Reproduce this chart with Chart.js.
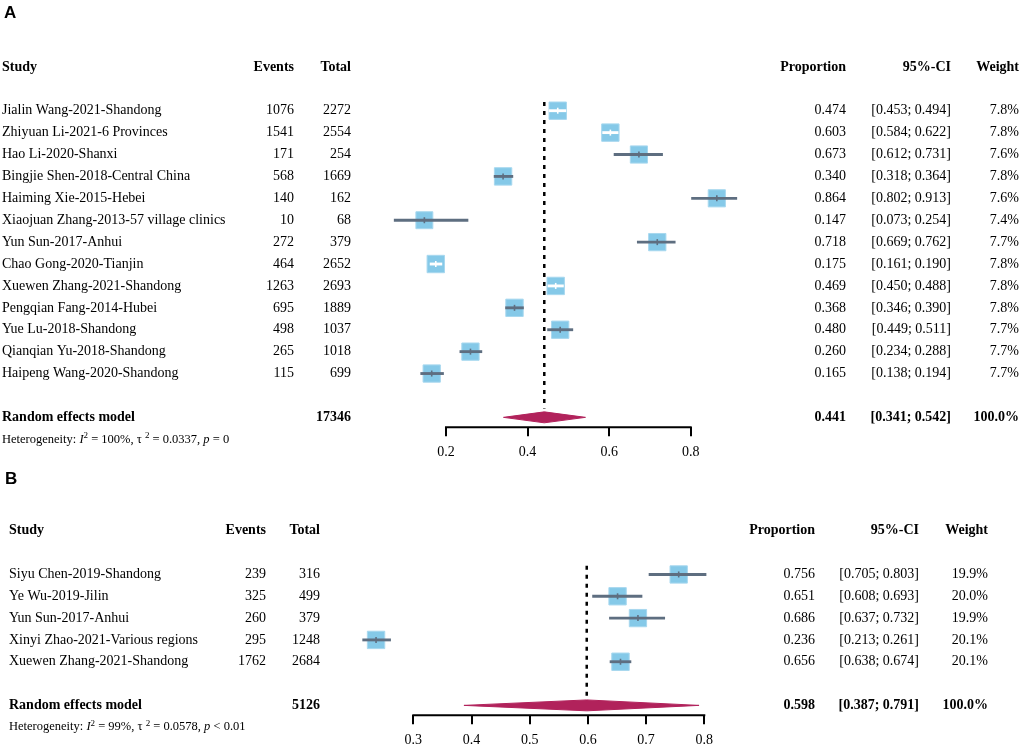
<!DOCTYPE html>
<html>
<head>
<meta charset="utf-8">
<script src="https://cdn.jsdelivr.net/npm/chart.js@4.4.1/dist/chart.umd.min.js"></script>
<style>
  html, body { margin:0; padding:0; background:#fff; overflow:hidden; }
  canvas { position:absolute; left:0; }
  #chartA { top:0; }
  #chartB { top:470px; }
</style>
</head>
<body>
<canvas id="chartA" width="1021" height="470"></canvas>
<canvas id="chartB" width="1021" height="290"></canvas>
<script>
const FONT = '"Liberation Serif", "Times New Roman", serif';
const SKY = '#85C9E8';
const SKY_EDGE = '#A8D8EF';
const GREY = '#5E6E80';
const DIAMOND = '#B1225B';

// panel A
const studiesA = ["Jialin Wang-2021-Shandong", "Zhiyuan Li-2021-6 Provinces", "Hao Li-2020-Shanxi",
  "Bingjie Shen-2018-Central China", "Haiming Xie-2015-Hebei", "Xiaojuan Zhang-2013-57 village clinics",
  "Yun Sun-2017-Anhui", "Chao Gong-2020-Tianjin", "Xuewen Zhang-2021-Shandong", "Pengqian Fang-2014-Hubei",
  "Yue Lu-2018-Shandong", "Qianqian Yu-2018-Shandong", "Haipeng Wang-2020-Shandong"];
const eventsA = [1076, 1541, 171, 568, 140, 10, 272, 464, 1263, 695, 498, 265, 115];
const totalA = [2272, 2554, 254, 1669, 162, 68, 379, 2652, 2693, 1889, 1037, 1018, 699];
const propA = [0.474, 0.603, 0.673, 0.340, 0.864, 0.147, 0.718, 0.175, 0.469, 0.368, 0.480, 0.260, 0.165];
const lowerA = [0.453, 0.584, 0.612, 0.318, 0.802, 0.073, 0.669, 0.161, 0.450, 0.346, 0.449, 0.234, 0.138];
const upperA = [0.494, 0.622, 0.731, 0.364, 0.913, 0.254, 0.762, 0.190, 0.488, 0.390, 0.511, 0.288, 0.194];
const weightA = [7.8, 7.8, 7.6, 7.8, 7.6, 7.4, 7.7, 7.8, 7.8, 7.8, 7.7, 7.7, 7.7];
const pooledA = [0.441, 0.341, 0.542];   // estimate, lower, upper
const pooledTotalA = 17346;
const ticksA = [0.2, 0.4, 0.6, 0.8];
const hetA = ["100%", "0.0337", " = 0"];

// panel B
const studiesB = ["Siyu Chen-2019-Shandong", "Ye Wu-2019-Jilin", "Yun Sun-2017-Anhui",
  "Xinyi Zhao-2021-Various regions", "Xuewen Zhang-2021-Shandong"];
const eventsB = [239, 325, 260, 295, 1762];
const totalB = [316, 499, 379, 1248, 2684];
const propB = [0.756, 0.651, 0.686, 0.236, 0.656];
const lowerB = [0.705, 0.608, 0.637, 0.213, 0.638];
const upperB = [0.803, 0.693, 0.732, 0.261, 0.674];
const weightB = [19.9, 20.0, 19.9, 20.1, 20.1];
const pooledB = [0.598, 0.387, 0.791];
const pooledTotalB = 5126;
const ticksB = [0.3, 0.4, 0.5, 0.6, 0.7, 0.8];
const hetB = ["99%", "0.0578", " < 0.01"];

function forest(id, p) {
  const n = p.studies.length;
  const rows = p.studies.map((s, i) => i + 2);
  const poolRow = n + 3, hetRow = n + 4;
  const wmax = Math.max(...p.weight);
  const side = i => 17.4 * Math.sqrt(p.weight[i] / wmax);
  // CI drawn white when it fits inside the square
  const inside = ctx => {
    const sx = ctx.chart.scales.x, i = ctx.dataIndex;
    return sx.getPixelForValue(p.upper[i]) - sx.getPixelForValue(p.lower[i]) < side(i) - 0.5;
  };
  const ciCol = ctx => inside(ctx) ? '#ffffff' : GREY;
  const tLo = p.ticks[0], tHi = p.ticks[p.ticks.length - 1];

  const table = {
    id: 'table' + id,
    afterDraw(chart) {
      const ctx = chart.ctx, ys = chart.scales.y, c = p.cols;
      const y = r => ys.getPixelForValue(r);
      const txt = (s, x, yy, align) => { ctx.textAlign = align; ctx.fillText(s, x, yy); };
      ctx.save();
      ctx.fillStyle = '#000';
      ctx.textBaseline = 'middle';
      ctx.font = 'bold 17px "Liberation Sans", Arial, sans-serif';
      txt(p.letter, c.letter, p.letterY, 'left');

      ctx.font = 'bold 14px ' + FONT;
      txt('Study', c.study, y(0), 'left');
      txt('Events', c.events, y(0), 'right');
      txt('Total', c.total, y(0), 'right');
      txt('Proportion', c.prop, y(0), 'right');
      txt('95%-CI', c.ci, y(0), 'right');
      txt('Weight', c.weight, y(0), 'right');

      ctx.font = '14px ' + FONT;
      rows.forEach((r, i) => {
        txt(p.studies[i], c.study, y(r), 'left');
        txt(String(p.events[i]), c.events, y(r), 'right');
        txt(String(p.total[i]), c.total, y(r), 'right');
        txt(p.prop[i].toFixed(3), c.prop, y(r), 'right');
        txt('[' + p.lower[i].toFixed(3) + '; ' + p.upper[i].toFixed(3) + ']', c.ci, y(r), 'right');
        txt(p.weight[i].toFixed(1) + '%', c.weight, y(r), 'right');
      });

      ctx.font = 'bold 14px ' + FONT;
      txt('Random effects model', c.study, y(poolRow), 'left');
      txt(String(p.pooledTotal), c.total, y(poolRow), 'right');
      txt(p.pooled[0].toFixed(3), c.prop, y(poolRow), 'right');
      txt('[' + p.pooled[1].toFixed(3) + '; ' + p.pooled[2].toFixed(3) + ']', c.ci, y(poolRow), 'right');
      txt('100.0%', c.weight, y(poolRow), 'right');

      // heterogeneity line with italics and superscripts
      const yh = y(hetRow);
      const parts = [
        ['Heterogeneity: ', '12.5px', 0], ['I', 'italic 12.5px', 0], ['2', '9px', -4],
        [' = ' + p.het[0] + ', \u03C4 ', '12.5px', 0], ['2', '9px', -4],
        [' = ' + p.het[1] + ', ', '12.5px', 0], ['p', 'italic 12.5px', 0], [p.het[2], '12.5px', 0]
      ];
      let x = c.study;
      ctx.textAlign = 'left';
      parts.forEach(([s, f, dy]) => {
        ctx.font = f + ' ' + FONT;
        ctx.fillText(s, x, yh + dy);
        x += ctx.measureText(s).width;
      });
      ctx.restore();
    }
  };

  const diamond = [
    {x: p.pooled[1], y: poolRow}, {x: p.pooled[0], y: poolRow - 0.25},
    {x: p.pooled[2], y: poolRow}, {x: p.pooled[0], y: poolRow + 0.25},
    {x: p.pooled[1], y: poolRow}
  ];

  return new Chart(document.getElementById(id), {
    type: 'scatter',
    data: {
      datasets: [
        {
          // axis line, only between the first and last tick
          type: 'line', data: [{x: tLo, y: p.axisRow}, {x: tHi, y: p.axisRow}], showLine: true,
          borderColor: '#000', borderWidth: 2, borderCapStyle: 'square',
          pointRadius: 0, clip: false, order: 6
        },
        {
          type: 'line', data: diamond, fill: 'shape', showLine: true,
          backgroundColor: DIAMOND, borderColor: DIAMOND, borderWidth: 1,
          pointRadius: 0, tension: 0, clip: false, order: 5
        },
        {
          type: 'line', data: [{x: p.pooled[0], y: 1.6}, {x: p.pooled[0], y: poolRow - 0.4}],
          showLine: true, borderColor: '#000', borderWidth: 2.5, borderDash: [4, 5],
          pointRadius: 0, clip: false, order: 4
        },
        {
          type: 'scatter', data: rows.map((r, i) => ({x: p.prop[i], y: r})),
          pointStyle: 'rect', pointRadius: ctx => side(ctx.dataIndex) / Math.SQRT2,
          backgroundColor: SKY, borderColor: SKY_EDGE, borderWidth: 1,
          clip: false, order: 3
        },
        {
          type: 'bar', indexAxis: 'y',
          data: rows.map((r, i) => ({x: [p.lower[i], p.upper[i]], y: r})),
          barThickness: 2.2, backgroundColor: ciCol, borderWidth: 0,
          clip: false, order: 2
        },
        {
          type: 'scatter', data: rows.map((r, i) => ({x: p.prop[i], y: r})),
          pointStyle: 'line', rotation: 90, pointRadius: 3, borderWidth: 1.6,
          borderColor: ciCol, backgroundColor: ciCol, clip: false, order: 1
        }
      ]
    },
    options: {
      responsive: false,
      animation: false,
      layout: { padding: p.pad },
      plugins: { legend: { display: false }, tooltip: { enabled: false } },
      scales: {
        x: {
          type: 'linear', min: p.range[0], max: p.range[1], offset: false,
          afterBuildTicks: s => { s.ticks = p.ticks.map(v => ({value: v})); },
          ticks: { color: '#000', font: { family: FONT, size: 14 }, padding: 8,
                   callback: v => v.toFixed(1), maxRotation: 0, autoSkip: false },
          grid: { display: true, drawOnChartArea: false, drawTicks: true, tickLength: 9,
                  color: '#000', lineWidth: 2 },
          border: { display: false }
        },
        y: { type: 'linear', display: false, reverse: true, offset: false, min: -1, max: p.axisRow }
      }
    },
    plugins: [table]
  });
}

forest('chartA', {
  letter: 'A', letterY: 13,
  studies: studiesA, events: eventsA, total: totalA, prop: propA, lower: lowerA, upper: upperA,
  weight: weightA, pooled: pooledA, pooledTotal: pooledTotalA, ticks: ticksA, het: hetA,
  range: [0.05, 0.95], axisRow: 16.45,
  pad: { left: 384.8, right: 269.1, top: 45, bottom: 1 },
  cols: { letter: 4, study: 2, events: 294, total: 351, prop: 846, ci: 951, weight: 1019 }
});

forest('chartB', {
  letter: 'B', letterY: 9,
  studies: studiesB, events: eventsB, total: totalB, prop: propB, lower: lowerB, upper: upperB,
  weight: weightB, pooled: pooledB, pooledTotal: pooledTotalB, ticks: ticksB, het: hetB,
  range: [0.2, 0.85], axisRow: 8.45,
  pad: { left: 355.1, right: 287.6, top: 39, bottom: 3 },
  cols: { letter: 5, study: 9, events: 266, total: 320, prop: 815, ci: 919, weight: 988 }
});
</script>
</body>
</html>
